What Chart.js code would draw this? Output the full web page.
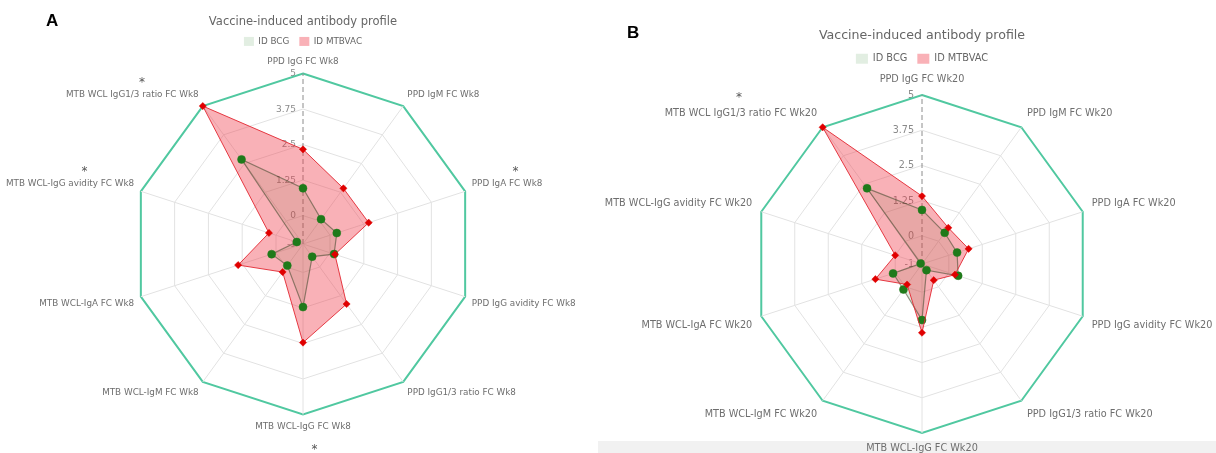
<!DOCTYPE html>
<html>
<head>
<meta charset="utf-8">
<script src="https://cdn.jsdelivr.net/npm/chart.js@4.4.1/dist/chart.umd.min.js"></script>
<style>
  html, body { margin: 0; padding: 0; background: #fff; }
  #page { position: relative; width: 1216px; height: 453px; overflow: hidden; background: #fff; }
  .tag { position: absolute; font: bold 17px "Liberation Sans", Arial, sans-serif; line-height: 17px; color: #000; }
  .holder { position: absolute; top: 0; }
  #bandB { position: absolute; left: 598px; top: 441px; width: 618px; height: 12px; background: #f1f1f1; }
</style>
</head>
<body>
<div id="page">
  <div id="bandB"></div>
  <div class="holder" style="left:-17px"><canvas id="chartA" width="640" height="453"></canvas></div>
  <div class="holder" style="left:580px"><canvas id="chartB" width="684" height="470"></canvas></div>
  <div class="tag" style="left:46px;top:12px">A</div>
  <div class="tag" style="left:627px;top:24px">B</div>
</div>
<script>
// ---- data ----
const TITLE = 'Vaccine-induced antibody profile';
const SERIES_NAMES = ['ID BCG', 'ID MTBVAC'];

const LABELS_WK8 = [
  'PPD IgG FC Wk8', 'PPD IgM FC Wk8', 'PPD IgA FC Wk8', 'PPD IgG avidity FC Wk8',
  'PPD IgG1/3 ratio FC Wk8', 'MTB WCL-IgG FC Wk8', 'MTB WCL-IgM FC Wk8',
  'MTB WCL-IgA FC Wk8', 'MTB WCL-IgG avidity FC Wk8', 'MTB WCL IgG1/3 ratio FC Wk8'
];
const LABELS_WK20 = [
  'PPD IgG FC Wk20', 'PPD IgM FC Wk20', 'PPD IgA FC Wk20', 'PPD IgG avidity FC Wk20',
  'PPD IgG1/3 ratio FC Wk20', 'MTB WCL-IgG FC Wk20', 'MTB WCL-IgM FC Wk20',
  'MTB WCL-IgA FC Wk20', 'MTB WCL-IgG avidity FC Wk20', 'MTB WCL IgG1/3 ratio FC Wk20'
];

const BCG_WK8    = [0.96, 0.08, 0.25, 0.15, -0.45, 1.22, -0.06, 0.16, -0.77, 2.68];
const MTBVAC_WK8 = [2.33, 1.42, 1.43, 0.18, 1.61, 2.47, 0.22, 1.40, 0.26, 5.00];

const BCG_WK20    = [0.92, 0.37, 0.31, 0.35, -0.73, 0.99, 0.12, 0.08, -0.95, 2.32];
const MTBVAC_WK20 = [1.41, 0.59, 0.74, 0.23, -0.29, 1.44, -0.10, 0.74, 0.00, 5.00];

// axes marked as significant (index into the label lists)
const SIGNIFICANT_WK8 = [9, 8, 2, 5];
const SIGNIFICANT_WK20 = [9];

const R_MIN = -1, R_MAX = 5;
const TICK_VALUES = [-1, 0, 1.25, 2.5, 3.75, 5];
const TICK_LABELS = ['-1', '0', '1.25', '2.5', '3.75', '5'];

// ---- styling ----
const FONT = '"DejaVu Sans", Verdana, sans-serif';
const GRID = '#e2e2e2';
const OUTER = '#50c8a0';
const TEXT = '#6e6e6e';

// tick labels sit left of the radial axis, underneath the data
const tickTextPlugin = {
  id: 'tickText',
  beforeDraw(chart, args, o) {
    const s = chart.scales.r;
    const ctx = chart.ctx;
    ctx.save();
    ctx.font = o.size + 'px ' + FONT;
    ctx.fillStyle = o.color;
    ctx.textAlign = 'right';
    ctx.textBaseline = 'middle';
    s.ticks.forEach((t, i) => {
      const y = s.yCenter - s.getDistanceFromCenterForValue(t.value);
      ctx.fillText(TICK_LABELS[i], s.xCenter - o.gap, y + 0.5);
    });
    ctx.restore();
  }
};

// significance asterisks next to the axis labels
const starPlugin = {
  id: 'stars',
  afterDraw(chart, args, o) {
    const s = chart.scales.r;
    const items = s._pointLabelItems || [];
    const ctx = chart.ctx;
    ctx.save();
    ctx.font = o.size + 'px ' + FONT;
    ctx.fillStyle = o.color;
    ctx.textAlign = 'center';
    ctx.textBaseline = 'middle';
    o.marks.forEach(m => {
      const it = items[m.index];
      if (!it) return;
      const cx = (it.left + it.right) / 2 + m.dx;
      const cy = (it.top + it.bottom) / 2 + m.dy;
      ctx.fillText('*', cx, cy + o.size * 0.25);
    });
    ctx.restore();
  }
};

function legendItems(chart) {
  return Chart.defaults.plugins.legend.labels.generateLabels(chart)
    .map(it => Object.assign(it, { lineWidth: 0 }));
}

function buildRadar(id, labels, bcg, mtb, cfg) {
  return new Chart(document.getElementById(id), {
    type: 'radar',
    data: {
      labels: labels,
      datasets: [
        {
          label: SERIES_NAMES[1],
          data: mtb,
          fill: 'start',
          backgroundColor: 'rgba(240, 60, 75, 0.40)',
          borderColor: 'rgba(226, 40, 50, 0.9)',
          borderWidth: 1,
          pointStyle: 'rectRot',
          pointRadius: 3.6,
          pointBackgroundColor: '#e00000',
          pointBorderColor: '#e00000',
          pointBorderWidth: 0.5,
          tension: 0
        },
        {
          label: SERIES_NAMES[0],
          data: bcg,
          fill: 'start',
          backgroundColor: 'rgba(30, 120, 30, 0.13)',
          borderColor: 'rgba(60, 70, 40, 0.55)',
          borderWidth: 1.2,
          pointStyle: 'circle',
          pointRadius: 4,
          pointBackgroundColor: '#1f7a1a',
          pointBorderColor: '#1f7a1a',
          pointBorderWidth: 0.5,
          tension: 0
        }
      ]
    },
    options: {
      responsive: false,
      animation: false,
      devicePixelRatio: 1,
      events: [],
      layout: { padding: { top: 0, left: 0, right: 0, bottom: cfg.padBottom } },
      plugins: {
        filler: { drawTime: 'beforeDatasetsDraw' },
        tooltip: { enabled: false },
        title: {
          display: true,
          text: TITLE,
          color: '#666',
          font: { family: FONT, size: cfg.titleSize, weight: 'normal' },
          padding: { top: cfg.titleTop, bottom: cfg.titleBottom }
        },
        legend: {
          display: true,
          reverse: true,
          labels: {
            color: '#666',
            font: { family: FONT, size: cfg.legendSize },
            boxWidth: cfg.boxW,
            boxHeight: cfg.boxH,
            padding: 10,
            generateLabels: legendItems
          }
        },
        tickText: { size: cfg.tickSize, color: '#8a8a8a', gap: cfg.tickGap },
        stars: { size: cfg.starSize, color: '#555', marks: cfg.stars }
      },
      scales: {
        r: {
          min: R_MIN,
          max: R_MAX,
          startAngle: 0,
          afterBuildTicks: s => { s.ticks = TICK_VALUES.map(v => ({ value: v })); },
          ticks: { display: false },
          grid: {
            circular: false,
            color: c => (c.tick && c.tick.value === R_MAX) ? OUTER : GRID,
            lineWidth: c => (c.tick && c.tick.value === R_MAX) ? 2 : 1
          },
          angleLines: {
            display: true,
            color: c => c.index === 0 ? '#8c8c8c' : GRID,
            lineWidth: 1,
            borderDash: c => c.index === 0 ? [5, 3] : []
          },
          pointLabels: {
            color: TEXT,
            font: { family: FONT, size: cfg.labelSize },
            padding: cfg.labelPad
          }
        }
      }
    },
    plugins: [tickTextPlugin, starPlugin]
  });
}

buildRadar('chartA', LABELS_WK8, BCG_WK8, MTBVAC_WK8, {
  padBottom: 20.94,
  titleSize: 11.5, titleTop: 14.8, titleBottom: -1.66,
  legendSize: 8.8, boxW: 10, boxH: 9,
  labelSize: 8.8, labelPad: 7,
  tickSize: 9, tickGap: 7,
  starSize: 12,
  stars: SIGNIFICANT_WK8.map((idx, k) => ({
    index: idx,
    dx: [9.7, 14.5, 8.5, 11.5][k],
    dy: [-15.7, -15, -15, 20][k]
  }))
});

buildRadar('chartB', LABELS_WK20, BCG_WK20, MTBVAC_WK20, {
  padBottom: 15.86,
  titleSize: 12.6, titleTop: 28.44, titleBottom: 0.3,
  legendSize: 9.8, boxW: 12, boxH: 10,
  labelSize: 9.7, labelPad: 9.5,
  tickSize: 9.6, tickGap: 8,
  starSize: 12,
  stars: SIGNIFICANT_WK20.map(idx => ({ index: idx, dx: -2, dy: -19 }))
});
</script>
</body>
</html>
